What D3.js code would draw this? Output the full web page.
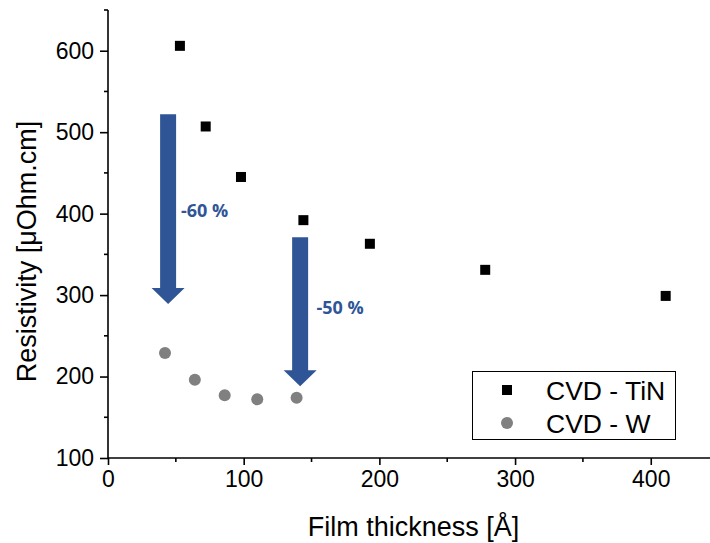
<!DOCTYPE html>
<html><head><meta charset="utf-8">
<script src="https://cdn.jsdelivr.net/npm/d3@7"></script>
<style>body{margin:0;background:#fff}svg{display:block}</style>
</head><body>
<svg id="c" width="710" height="543"></svg>
<script>
const tinThickness = [53, 72, 98, 144, 193, 278, 411];
const tinResistivity = [606, 507, 445, 392, 363, 331, 299];
const wThickness = [42, 64, 86, 110, 139];
const wResistivity = [229, 196, 177, 172, 174];
const xTicks = [0, 100, 200, 300, 400];
const yTicks = [100, 200, 300, 400, 500, 600];
const seriesNames = ["CVD - TiN", "CVD - W"];
const arrowX = [44.3, 141.6];
const arrowTop = [522, 371];
const arrowTip = [289, 188];
const arrowLabels = ["-60 %", "-50 %"];

const svg = d3.select("#c");
const x = d3.scaleLinear().domain([0, 450]).range([108, 718.6]);
const y = d3.scaleLinear().domain([100, 650]).range([458, 10]);
const font = "Arial, 'Liberation Sans', sans-serif";

// axes
const xAxis = d3.axisBottom(x).tickValues(xTicks).tickSize(7).tickPadding(6).tickFormat(d3.format("d"));
const gx = svg.append("g").attr("transform", `translate(0,${y(100)})`).call(xAxis);
gx.select(".domain").attr("d", `M${x(0)},0H${x(450)}`).attr("stroke-width", 1.6);
gx.selectAll(".tick line").attr("stroke-width", 1.6);
gx.selectAll(".tick text").attr("font-size", 23).attr("font-family", font).attr("fill", "#000");
svg.append("g").attr("transform", `translate(0,${y(100)})`)
  .selectAll("line").data([50,150,250,350,450]).join("line")
  .attr("x1", d => x(d)).attr("x2", d => x(d)).attr("y1", 0).attr("y2", 4)
  .attr("stroke", "#000").attr("stroke-width", 1.6);

const yAxis = d3.axisLeft(y).tickValues(yTicks).tickSize(8).tickPadding(6);
const gy = svg.append("g").attr("transform", `translate(${x(0)},0)`).call(yAxis);
gy.select(".domain").attr("d", `M0,${y(100)}V${y(650)}`).attr("stroke-width", 1.6);
gy.selectAll(".tick line").attr("stroke-width", 1.6);
gy.selectAll(".tick text").attr("font-size", 23).attr("font-family", font).attr("fill", "#000");
svg.append("g").attr("transform", `translate(${x(0)},0)`)
  .selectAll("line").data([150,250,350,450,550,650]).join("line")
  .attr("y1", d => y(d)).attr("y2", d => y(d)).attr("x1", 0).attr("x2", -4)
  .attr("stroke", "#000").attr("stroke-width", 1.6);

// titles
svg.append("text").attr("x", 413.5).attr("y", 536).attr("text-anchor", "middle")
  .attr("font-size", 27).attr("font-family", font).text("Film thickness [Å]");
svg.append("text").attr("transform", "translate(35.5,251.5) rotate(-90)").attr("text-anchor", "middle")
  .attr("font-size", 27).attr("font-family", font).text("Resistivity [μOhm.cm]");

// arrows
const blue = "#2F5597";
const shaftW = 16, headW = 33, headH = 16;
arrowX.forEach((ax, i) => {
  const cx = x(ax), t = y(arrowTop[i]), tip = y(arrowTip[i]);
  const hb = tip - headH;
  svg.append("path")
    .attr("d", `M${cx-shaftW/2},${t}H${cx+shaftW/2}V${hb}H${cx+headW/2}L${cx},${tip}L${cx-headW/2},${hb}H${cx-shaftW/2}Z`)
    .attr("fill", blue);
});
svg.append("text").attr("x", 181).attr("y", 217).attr("font-size", 18).attr("font-weight", "bold")
  .attr("font-family", "'Open Sans', sans-serif").attr("fill", blue).text(arrowLabels[0]);
svg.append("text").attr("x", 316.5).attr("y", 313.5).attr("font-size", 18).attr("font-weight", "bold")
  .attr("font-family", "'Open Sans', sans-serif").attr("fill", blue).text(arrowLabels[1]);

// data
const tin = tinThickness.map((d, i) => [d, tinResistivity[i]]);
const w = wThickness.map((d, i) => [d, wResistivity[i]]);
svg.append("g").selectAll("rect").data(tin).join("rect")
  .attr("x", d => x(d[0]) - 5).attr("y", d => y(d[1]) - 5).attr("width", 10).attr("height", 10).attr("fill", "#000");
svg.append("g").selectAll("circle").data(w).join("circle")
  .attr("cx", d => x(d[0])).attr("cy", d => y(d[1])).attr("r", 6).attr("fill", "#808080");

// legend
svg.append("rect").attr("x", 472.5).attr("y", 371.5).attr("width", 203).attr("height", 68)
  .attr("fill", "#fff").attr("stroke", "#000").attr("stroke-width", 1);
svg.append("rect").attr("x", 502).attr("y", 385).attr("width", 10).attr("height", 10).attr("fill", "#000");
svg.append("circle").attr("cx", 507).attr("cy", 423).attr("r", 6).attr("fill", "#808080");
svg.append("text").attr("x", 546).attr("y", 399.5).attr("font-size", 26.5).attr("font-family", font).text(seriesNames[0]);
svg.append("text").attr("x", 546).attr("y", 432.5).attr("font-size", 26.5).attr("font-family", font).text(seriesNames[1]);
</script>
</body></html>
